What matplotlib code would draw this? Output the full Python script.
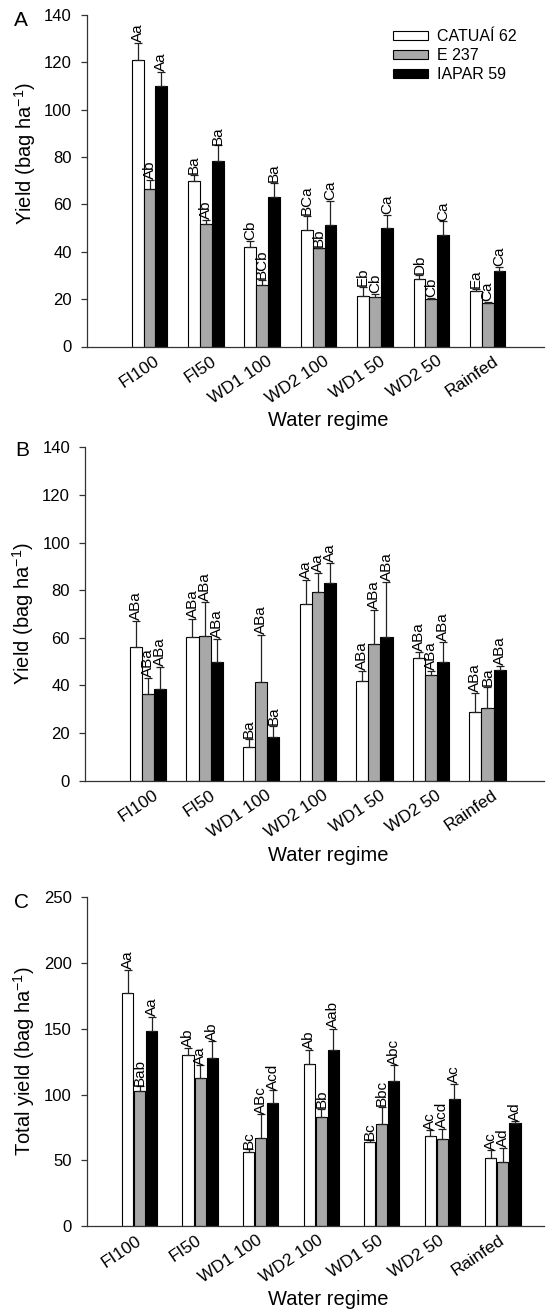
import numpy as np
import matplotlib.pyplot as plt
from matplotlib.transforms import ScaledTranslation

plt.rcParams['font.family'] = ['Liberation Sans', 'DejaVu Sans']
plt.rcParams['mathtext.fontset'] = 'custom'
plt.rcParams['mathtext.rm'] = 'Liberation Sans'
plt.rcParams['mathtext.it'] = 'Liberation Sans:italic'

# Data
regimes = ["FI100", "FI50", "WD1 100", "WD2 100", "WD1 50", "WD2 50", "Rainfed"]
cultivars = ["CATUAÍ 62", "E 237", "IAPAR 59"]

# Panel A - yield
a_catuai = [121.0, 70.0, 42.2, 49.0, 21.5, 28.4, 23.6]
a_catuai_se = [7.2, 2.5, 2.5, 6.2, 3.5, 1.8, 0.6]
a_e237 = [66.4, 51.8, 26.0, 41.5, 21.1, 20.1, 18.2]
a_e237_se = [4.0, 1.7, 2.1, 0.3, 1.1, 0.3, 0.7]
a_iapar = [109.9, 78.2, 63.1, 51.4, 50.1, 47.0, 31.9]
a_iapar_se = [5.9, 6.7, 5.9, 10.1, 5.5, 5.8, 1.8]
a_catuai_lab = ["Aa", "Ba", "Cb", "BCa", "Eb", "Db", "Ea"]
a_e237_lab = ["Ab", "Ab", "BCb", "Bb", "Cb", "Cb", "Ca"]
a_iapar_lab = ["Aa", "Ba", "Ba", "Ca", "Ca", "Ca", "Ca"]

# Panel B - yield
b_catuai = [56.3, 60.5, 14.3, 74.1, 42.0, 51.4, 29.0]
b_catuai_se = [10.9, 7.4, 3.1, 10.2, 4.2, 2.5, 7.7]
b_e237 = [36.4, 60.9, 41.3, 79.4, 57.3, 44.4, 30.4]
b_e237_se = [6.9, 14.3, 19.9, 8.0, 14.4, 1.7, 9.1]
b_iapar = [38.5, 50.0, 18.2, 82.9, 60.5, 50.0, 46.5]
b_iapar_se = [9.1, 9.4, 4.9, 8.4, 23.1, 8.4, 1.7]
b_catuai_lab = ["ABa", "ABa", "Ba", "Aa", "ABa", "ABa", "ABa"]
b_e237_lab = ["ABa", "ABa", "ABa", "Aa", "ABa", "ABa", "Ba"]
b_iapar_lab = ["ABa", "ABa", "Ba", "Aa", "ABa", "ABa", "ABa"]

# Panel C - total yield
c_catuai = [177.3, 130.0, 56.1, 122.9, 64.0, 68.5, 51.8]
c_catuai_se = [17.5, 5.6, 2.1, 11.1, 1.3, 4.3, 5.9]
c_e237 = [102.7, 112.3, 67.0, 82.9, 77.4, 65.8, 48.3]
c_e237_se = [3.7, 9.9, 18.0, 6.4, 13.1, 8.3, 11.4]
c_iapar = [148.2, 127.7, 93.6, 134.0, 110.2, 96.9, 78.4]
c_iapar_se = [11.1, 12.9, 9.6, 16.0, 12.0, 11.4, 1.3]
c_catuai_lab = ["Aa", "Ab", "Bc", "Ab", "Bc", "Ac", "Ac"]
c_e237_lab = ["Bab", "Aa", "ABc", "Bb", "Bbc", "Acd", "Ad"]
c_iapar_lab = ["Aa", "Ab", "Acd", "Aab", "Abc", "Ac", "Ad"]

colors = ["white", "#a8a8a8", "black"]

W, H = 546, 1316
fig = plt.figure(figsize=(W / 100, H / 100), dpi=100)


def px_axes(left, right, top, bottom):
    return fig.add_axes([left / W, 1 - bottom / H, (right - left) / W, (bottom - top) / H])


def draw_panel(ax, means, ses, labels, width, step, xlim, ymax, ystep,
               ylabel, label_dx, ylab_x, ylab_y, xlab_top):
    x0 = np.arange(len(regimes))
    bars = []
    for k in range(3):
        x = x0 + (k - 1) * step
        b = ax.bar(x, means[k], width, color=colors[k], edgecolor="black",
                   linewidth=0.8, zorder=2, label=cultivars[k])
        bars.append(b)
        ax.errorbar(x, means[k], yerr=[np.zeros(len(x)), ses[k]], fmt="none",
                    ecolor="#222222", elinewidth=0.9, capsize=3.2, capthick=0.9, zorder=3)
        for xi, m, s, lab in zip(x, means[k], ses[k], labels[k]):
            ax.text(xi, m + s + 0.4, lab, rotation=90, ha="center", va="bottom",
                    fontsize=11)
    ax.set_xlim(*xlim)
    ax.set_ylim(0, ymax)
    ax.set_yticks(np.arange(0, ymax + 1, ystep))
    ax.set_xticks(x0)
    ax.tick_params(axis="x", length=0, pad=5)
    ax.tick_params(axis="y", direction="out", length=4, width=0.9, pad=7,
                   labelsize=12, color="#333333")
    ax.set_xticklabels(regimes, rotation=34, ha="right", fontsize=12.5)
    # shift the slanted labels sideways (after tick_params, which resets transforms)
    for lab in ax.get_xticklabels():
        lab.set_transform(lab.get_transform() +
                          ScaledTranslation(label_dx / 100, 0, fig.dpi_scale_trans))
    for sp in ["top", "right"]:
        ax.spines[sp].set_visible(False)
    for sp in ["left", "bottom"]:
        ax.spines[sp].set_linewidth(0.9)
        ax.spines[sp].set_color("#333333")
    ax.set_ylabel(ylabel, fontsize=14.5)
    ax.set_xlabel("Water regime", fontsize=14.5)
    bb = ax.get_position()
    axl, axw = bb.x0 * W, bb.width * W
    axb, axh = (1 - bb.y0) * H, bb.height * H
    ax.yaxis.set_label_coords((ylab_x - axl) / axw, (axb - ylab_y) / axh)
    ax.xaxis.set_label_coords((328 - axl) / axw, -xlab_top / axh)
    return bars


axA = px_axes(87, 544, 15, 346.5)
barsA = draw_panel(axA, [a_catuai, a_e237, a_iapar], [a_catuai_se, a_e237_se, a_iapar_se],
                   [a_catuai_lab, a_e237_lab, a_iapar_lab], 0.21, 0.21, (-1.11, 7.0),
                   140, 20, "Yield (bag ha$^{-1}$)", 13, 38, 154, 65)

axB = px_axes(85.3, 544, 447.3, 780.7)
draw_panel(axB, [b_catuai, b_e237, b_iapar], [b_catuai_se, b_e237_se, b_iapar_se],
           [b_catuai_lab, b_e237_lab, b_iapar_lab], 0.215, 0.215, (-1.11, 7.0),
           140, 20, "Yield (bag ha$^{-1}$)", 13, 36, 614, 65)

axC = px_axes(87, 544, 897.3, 1226)
draw_panel(axC, [c_catuai, c_e237, c_iapar], [c_catuai_se, c_e237_se, c_iapar_se],
           [c_catuai_lab, c_e237_lab, c_iapar_lab], 0.185, 0.2, (-0.87, 6.68),
           250, 50, "Total yield (bag ha$^{-1}$)", 4, 37, 1061, 64)

axA.legend(handles=barsA, loc="upper left", bbox_to_anchor=(392.7 / W, 1 - 29 / H),
           bbox_transform=fig.transFigure, frameon=False, fontsize=11.5,
           borderpad=0, borderaxespad=0, handlelength=2.2, handleheight=0.55,
           handletextpad=0.55, labelspacing=0.25)

for letter, xp, yp in [("A", 14, 21), ("B", 15, 450), ("C", 14, 902)]:
    fig.text(xp / W, 1 - yp / H, letter, fontsize=15, ha="left", va="center")

fig.savefig("out.png", dpi=100)
